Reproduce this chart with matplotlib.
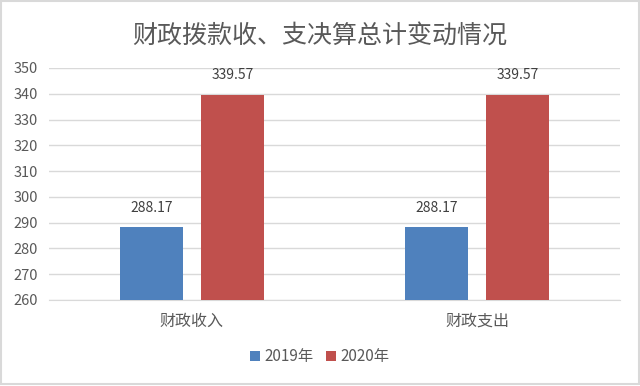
import numpy as np
import matplotlib.pyplot as plt
from matplotlib.patches import Rectangle

plt.rcParams['font.family'] = ['Noto Sans CJK SC', 'DejaVu Sans']

title = '财政拨款收、支决算总计变动情况'
categories = ['财政收入', '财政支出']
series_names = ['2019年', '2020年']
values_2019 = [288.17, 288.17]
values_2020 = [339.57, 339.57]
colors = ['#4F81BD', '#C0504D']
text_color = '#595959'

fig = plt.figure(figsize=(6.4, 3.86), dpi=100)
ax = fig.add_axes([49/640, 1 - 300/386, (620 - 49)/640, (300 - 68)/386])

x = np.arange(len(categories))
width = 0.22
offset = 0.142
for vals, name, col, sign in [(values_2019, series_names[0], colors[0], -1),
                              (values_2020, series_names[1], colors[1], 1)]:
    bars = ax.bar(x + sign*offset, vals, width, color=col, label=name, zorder=3)
    for b, v in zip(bars, vals):
        ax.annotate(f'{v:.2f}', (b.get_x() + b.get_width()/2, v),
                    xytext=(0, 9), textcoords='offset points',
                    ha='center', va='bottom', fontsize=10, color='#404040')

ax.set_xlim(-0.5, 1.5)
ax.set_ylim(260, 350)
ax.set_yticks(np.arange(260, 351, 10))
ax.set_xticks(x)
ax.set_xticklabels(categories, fontsize=11.5)
ax.grid(axis='y', color='#D9D9D9', linewidth=1, zorder=0)
for s in ['left', 'right', 'top']:
    ax.spines[s].set_visible(False)
ax.spines['bottom'].set_color('#D9D9D9')
ax.tick_params(axis='both', length=0, colors=text_color)
ax.tick_params(axis='y', labelsize=10.5, pad=8)
ax.tick_params(axis='x', pad=9)

fig.text(0.5, 1 - 36/386, title, ha='center', va='center', fontsize=18, color=text_color)
fig.legend(loc='center', bbox_to_anchor=(0.5, 1 - 357/386), ncol=2, frameon=False,
           fontsize=11, handlelength=0.65, handleheight=0.65, handletextpad=0.3,
           columnspacing=0.8, labelcolor=text_color)

fig.patches.append(Rectangle((0.002, 0.004), 0.996, 0.993, transform=fig.transFigure,
                             fill=False, edgecolor='#D9D9D9', linewidth=1.5))

fig.savefig('out.png', dpi=100)
